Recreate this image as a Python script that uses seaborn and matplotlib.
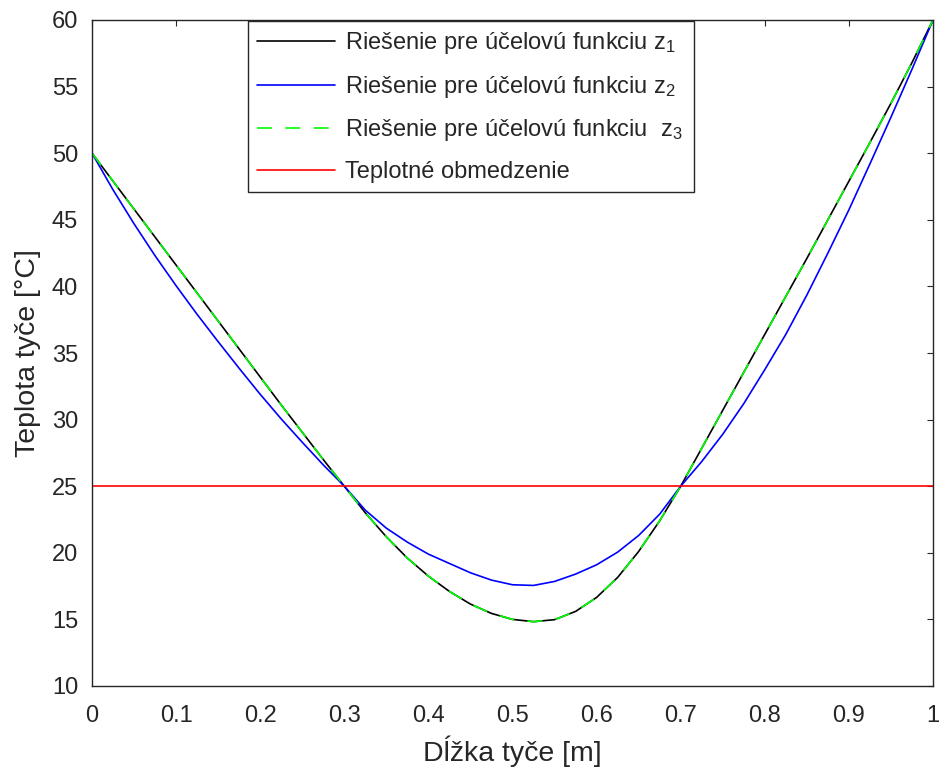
import numpy as np
import pandas as pd
import seaborn as sns
import matplotlib
matplotlib.use("Agg")
import matplotlib.pyplot as plt

# ---- data ----
x_pos = [0.0, 0.025, 0.05, 0.075, 0.1, 0.125, 0.15, 0.175, 0.2, 0.225, 0.25, 0.275,
         0.3, 0.325, 0.35, 0.375, 0.4, 0.425, 0.45, 0.475, 0.5, 0.525, 0.55, 0.575,
         0.6, 0.625, 0.65, 0.675, 0.7, 0.725, 0.75, 0.775, 0.8, 0.825, 0.85, 0.875,
         0.9, 0.925, 0.95, 0.975, 1.0]
z1_temp = [50.0, 47.9, 45.8, 43.7, 41.6, 39.5, 37.4, 35.3, 33.2, 31.1, 29.05, 27.0,
           25.0, 23.0, 21.2, 19.6, 18.25, 17.1, 16.15, 15.45, 15.0, 14.83, 14.98, 15.6,
           16.65, 18.15, 20.1, 22.4, 25.0, 27.85, 30.7, 33.55, 36.4, 39.25, 42.1, 45.0,
           47.9, 50.8, 53.75, 56.8, 60.0]
z2_temp = [50.0, 47.25, 44.7, 42.3, 40.05, 37.9, 35.85, 33.85, 31.9, 30.05, 28.3, 26.6,
           25.0, 23.2, 21.85, 20.8, 19.9, 19.2, 18.5, 17.95, 17.6, 17.55, 17.85, 18.4,
           19.1, 20.05, 21.3, 22.9, 25.0, 26.85, 28.9, 31.2, 33.75, 36.4, 39.35, 42.5,
           45.75, 49.2, 52.7, 56.3, 60.0]
z3_temp = [50.0, 47.9, 45.8, 43.7, 41.6, 39.5, 37.4, 35.3, 33.2, 31.1, 29.05, 27.0,
           25.0, 23.0, 21.2, 19.6, 18.25, 17.1, 16.15, 15.45, 15.0, 14.83, 14.98, 15.6,
           16.65, 18.15, 20.1, 22.4, 25.0, 27.85, 30.7, 33.55, 36.4, 39.25, 42.1, 45.0,
           47.9, 50.8, 53.75, 56.8, 60.0]
limit_x = [0.0, 1.0]
limit_temp = [25.0, 25.0]

labels = ["Riešenie pre účelovú funkciu z$_\\mathregular{1}$",
          "Riešenie pre účelovú funkciu z$_\\mathregular{2}$",
          "Riešenie pre účelovú funkciu  z$_\\mathregular{3}$",
          "Teplotné obmedzenie"]
x_ticks = [0, 0.1, 0.2, 0.3, 0.4, 0.5, 0.6, 0.7, 0.8, 0.9, 1]
x_ticklabels = ["0", "0.1", "0.2", "0.3", "0.4", "0.5", "0.6", "0.7", "0.8", "0.9", "1"]
y_ticks = [10, 15, 20, 25, 30, 35, 40, 45, 50, 55, 60]
x_label = "Dĺžka tyče [m]"
y_label = "Teplota tyče [°C]"

# ---- style ----
sns.set_style("white")
plt.rcParams["font.family"] = ["Liberation Sans", "DejaVu Sans"]
plt.rcParams["mathtext.fontset"] = "custom"
plt.rcParams["mathtext.rm"] = "Liberation Sans"
plt.rcParams["mathtext.it"] = "Liberation Sans"

fig = plt.figure(figsize=(9.4, 7.74), dpi=100)
ax = fig.add_axes([92 / 940, 1 - 686 / 774, (933 - 92) / 940, (686 - 20) / 774])

df = pd.DataFrame({"x": x_pos, "z1": z1_temp, "z2": z2_temp, "z3": z3_temp})
lw = 1.2
sns.lineplot(data=df, x="x", y="z1", ax=ax, color="#000000", lw=lw, label=labels[0])
sns.lineplot(data=df, x="x", y="z2", ax=ax, color="#0000ff", lw=lw, label=labels[1])
sns.lineplot(data=df, x="x", y="z3", ax=ax, color="#00ff00", lw=lw, label=labels[2],
             linestyle=(0, (9, 8)))
sns.lineplot(x=limit_x, y=limit_temp, ax=ax, color="#ff0000", lw=lw, label=labels[3])

ax.set_xlim(0, 1)
ax.set_ylim(10, 60)
ax.set_xticks(x_ticks)
ax.set_xticklabels(x_ticklabels)
ax.set_yticks(y_ticks)
ax.tick_params(axis="both", which="both", direction="in", length=4, width=0.8,
               top=True, right=True, labelsize=17, colors="#262626")
ax.tick_params(axis="x", pad=14)
ax.tick_params(axis="y", pad=10)
for sp in ax.spines.values():
    sp.set_visible(True)
    sp.set_color("#262626")
    sp.set_linewidth(1.0)

ax.set_xlabel(x_label, fontsize=20.5, color="#262626", labelpad=6)
ax.set_ylabel(y_label, fontsize=20.5, color="#262626", labelpad=8)

x0 = (248 - 92) / 841
w = (694 - 248) / 841
leg = ax.legend(loc="upper left", bbox_to_anchor=(x0, 0.0, w, 1.0 - 1 / 666),
                mode="expand", fontsize=17, frameon=True, fancybox=False,
                framealpha=1, edgecolor="#262626", handlelength=3.3,
                handletextpad=0.4, labelspacing=0.74, borderpad=0.4,
                borderaxespad=0)
leg.get_frame().set_linewidth(1.0)

fig.savefig("out.png", dpi=100, facecolor="white")
